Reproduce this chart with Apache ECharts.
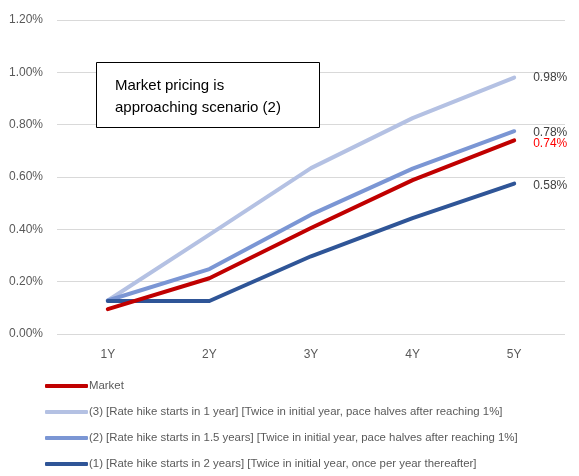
<!DOCTYPE html>
<html><head><meta charset="utf-8">
<script src="https://cdn.jsdelivr.net/npm/echarts@6/dist/echarts.min.js"></script>
<style>html,body{margin:0;padding:0;background:#fff}#c{width:579px;height:476px}</style>
</head><body><div id="c"></div>
<script>
var categories = ['1Y','2Y','3Y','4Y','5Y'];
var seriesNames = [
  'Market',
  '(3) [Rate hike starts in 1 year] [Twice in initial year, pace halves after reaching 1%]',
  '(2) [Rate hike starts in 1.5 years] [Twice in initial year, pace halves after reaching 1%]',
  '(1) [Rate hike starts in 2 years] [Twice in initial year, once per year thereafter]'
];
var market = [0.095, 0.213, 0.405, 0.588, 0.74];
var scenario3 = [0.128, 0.38, 0.634, 0.825, 0.98];
var scenario2 = [0.128, 0.248, 0.456, 0.632, 0.775];
var scenario1 = [0.126, 0.126, 0.297, 0.443, 0.575];
var endLabels = ['0.74%', '0.98%', '0.78%', '0.58%'];
var yTicks = [0, 0.2, 0.4, 0.6, 0.8, 1.0, 1.2];
var annotation = ['Market pricing is', 'approaching scenario (2)'];

var colors = ['#c00000', '#b4c1e3', '#7b96d4', '#2f5597'];
var labelColors = ['#ff0000', '#404040', '#404040', '#404040'];
var labelOffsets = [[0, 3], [0, 0], [0, 1], [0, 2]];
var values = [market, scenario3, scenario2, scenario1];

function mkSeries(i) {
  return {
    name: seriesNames[i], type: 'line', data: values[i],
    symbol: 'none', smooth: false,
    lineStyle: { width: 4, color: colors[i], cap: 'round', join: 'round' },
    itemStyle: { color: colors[i] },
    endLabel: {
      show: true, distance: 19,
      formatter: endLabels[i], color: labelColors[i],
      fontSize: 12, fontFamily: 'Liberation Sans', offset: labelOffsets[i]
    },
    z: i === 0 ? 5 : 2,
    silent: true
  };
}

var chart = echarts.init(document.getElementById('c'));
chart.setOption({
  animation: false,
  backgroundColor: '#fff',
  grid: { left: 57, right: 14, top: 20, bottom: 142 },
  xAxis: {
    type: 'category', data: categories, boundaryGap: true,
    axisLine: { show: false }, axisTick: { show: false },
    axisLabel: { color: '#595959', fontSize: 12, fontFamily: 'Liberation Sans', margin: 15 }
  },
  yAxis: {
    type: 'value', min: yTicks[0], max: yTicks[yTicks.length - 1], interval: 0.2,
    axisLine: { show: false }, axisTick: { show: false },
    splitLine: { lineStyle: { color: '#d9d9d9', width: 1 } },
    axisLabel: {
      color: '#595959', fontSize: 12, fontFamily: 'Liberation Sans', margin: 14,
      formatter: function (v) { return v.toFixed(2) + '%'; }
    }
  },
  legend: {
    orient: 'vertical', left: 45, top: 379, height: 110, width: 540,
    padding: 0,
    data: seriesNames,
    icon: 'roundRect', itemWidth: 43, itemHeight: 4, itemGap: 12,
    selectedMode: false,
    textStyle: { color: '#595959', fontSize: 11.4, fontFamily: 'Liberation Sans', padding: [0, 0, 0, -4], lineHeight: 14 }
  },
  graphic: [
    {
      type: 'rect', left: 96, top: 62, z: 20,
      shape: { width: 223, height: 65 },
      style: { fill: '#fff', stroke: '#000', lineWidth: 1 }
    },
    {
      type: 'text', left: 115, top: 75, z: 21,
      style: {
        text: annotation.join('\n'), fill: '#000', fontSize: 15,
        fontFamily: 'Liberation Sans', lineHeight: 22
      }
    }
  ],
  series: [mkSeries(1), mkSeries(2), mkSeries(3), mkSeries(0)]
});
</script>
</body></html>
